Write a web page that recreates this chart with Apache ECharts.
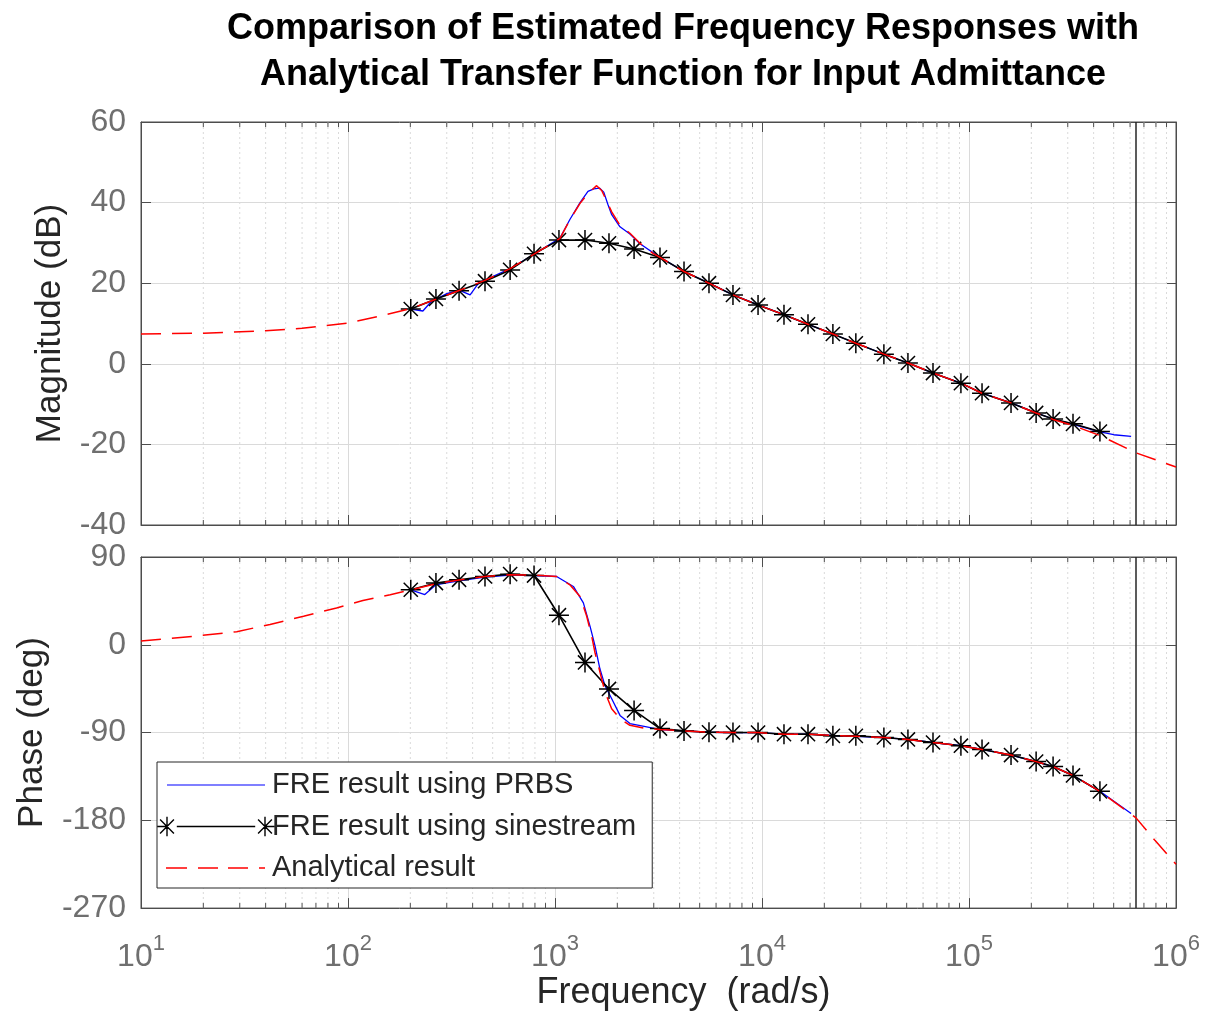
<!DOCTYPE html>
<html>
<head>
<meta charset="utf-8">
<script src="https://cdn.jsdelivr.net/npm/echarts@6/dist/echarts.min.js"></script>
<style>html,body{margin:0;padding:0;background:#fff}#c{width:1207px;height:1013px}</style>
</head>
<body>
<div id="c"></div>
<script>
// ---------------- DATA ----------------
const titleText = 'Comparison of Estimated Frequency Responses with\nAnalytical Transfer Function for Input Admittance';
const xAxisName = 'Frequency  (rad/s)';
const magAxisName = 'Magnitude (dB)';
const phaseAxisName = 'Phase (deg)';
const seriesNames = ['FRE result using PRBS', 'FRE result using sinestream', 'Analytical result'];

// sinestream (black stars)
const sineFreq = [201, 266, 344, 459, 607, 792, 1045, 1396, 1823, 2410, 3215, 4200, 5545, 7240, 9570,
  12770, 16680, 22000, 28400, 38800, 50700, 67000, 91400, 115600, 159600, 211000, 254800, 318000, 429000];
const sineMag = [13.6, 16.1, 18.1, 20.5, 23.3, 27.3, 30.7, 30.7, 29.9, 28.5, 26.4, 22.9, 20.0, 17.1, 14.6,
  12.2, 9.8, 7.4, 5.1, 2.4, 0.2, -2.3, -4.8, -7.3, -9.7, -12.2, -13.7, -14.9, -16.8];
const sinePhase = [56.4, 63.3, 66.6, 70.0, 72.4, 71.0, 30.3, -18.1, -45.3, -67.3, -85.9, -88.3, -89.7, -90.0, -90.0,
  -91.7, -91.7, -93.4, -93.4, -95.1, -97.1, -100.2, -103.5, -107.3, -113.1, -119.8, -124.9, -134.0, -150.3];

// PRBS (blue)
const prbsMagFreq = [201, 230, 250, 266, 300, 344, 389, 430, 459, 607, 792, 1057, 1180, 1321, 1443, 1540, 1640, 1720,
  1800, 1879, 2060, 2301, 2574, 3215, 4200, 5545, 7240, 9570, 12770, 16680, 22000, 28400, 38800, 50700, 67000,
  91400, 115600, 159600, 211000, 254800, 318000, 429000, 500000, 607000];
const prbsMag = [13.6, 13.1, 15.2, 16.0, 17.4, 18.3, 17.1, 20.2, 20.8, 23.6, 27.2, 31.2, 35.8, 40.0, 42.8, 43.4, 43.6, 42.6,
  39.6, 37.0, 34.0, 32.2, 29.8, 26.4, 22.9, 20.0, 17.1, 14.6, 12.2, 9.8, 7.4, 5.1, 2.4, 0.2, -2.3,
  -4.8, -7.3, -9.7, -12.2, -13.7, -15.0, -16.9, -17.6, -18.0];
const prbsPhFreq = [201, 235, 266, 300, 344, 400, 459, 607, 792, 1018, 1227, 1371, 1476, 1561, 1649, 1744, 1879, 2061,
  2302, 2773, 3215, 4200, 5545, 7240, 9570, 12770, 16680, 22000, 28400, 38800, 50700, 67000, 91400, 115600,
  159600, 211000, 254800, 318000, 429000, 542000, 607000];
const prbsPh = [56.4, 51.5, 61.5, 63.5, 65.5, 67.5, 69.5, 71.5, 71.0, 70.0, 59.8, 42.9, 19.1, -1.2, -24.9, -41.9, -55.4, -72.4,
  -80.8, -84.2, -87.0, -88.3, -89.7, -90.0, -90.0, -91.7, -91.7, -93.0, -93.8, -95.1, -97.1, -100.2, -103.5, -107.3,
  -113.1, -119.8, -124.9, -134.0, -150.3, -165.6, -173.0];

// Analytical (red dashed)
const anaMagFreq = [10, 20, 40, 60, 100, 150, 201, 266, 344, 459, 607, 792, 1057, 1180, 1321, 1443, 1589, 1681, 1777,
  1879, 2060, 2301, 2574, 2974, 3215, 4200, 5545, 7240, 9570, 12770, 16680, 22000, 28400, 38800, 50700, 67000,
  91400, 115600, 159600, 211000, 254800, 318000, 429000, 641000, 1000000];
const anaMag = [7.4, 7.6, 8.2, 8.8, 10.1, 12.1, 13.7, 16.0, 18.2, 20.7, 23.6, 27.2, 31.1, 35.7, 39.8, 42.3, 44.2, 43.0, 40.4,
  37.7, 34.4, 32.4, 29.9, 27.4, 26.4, 22.9, 20.0, 17.1, 14.6, 12.2, 9.8, 7.4, 5.1, 2.4, 0.2, -2.3,
  -4.8, -7.3, -9.7, -12.2, -13.8, -15.3, -17.8, -22.1, -25.6];
const anaPhFreq = [10, 18.6, 29, 42, 61, 88, 118, 160, 201, 266, 344, 459, 607, 792, 1018, 1180, 1321, 1423, 1504, 1560,
  1650, 1745, 1878, 2060, 2301, 2776, 3215, 4200, 5545, 7240, 9570, 12770, 16680, 22000, 28400, 38800, 50700,
  67000, 91400, 115600, 159600, 211000, 254800, 318000, 429000, 641000, 793000, 1000000];
const anaPh = [3.9, 9.0, 13.4, 20.8, 29.3, 37.8, 45.3, 51.4, 56.4, 62.5, 66.5, 70.0, 71.8, 71.5, 70.0, 61.5, 49.6, 29.3, 8.9, -7.9,
  -28.3, -48.6, -65.6, -75.8, -82.6, -85.9, -86.8, -88.3, -89.7, -90.0, -90.0, -91.7, -91.7, -93.0, -93.8, -95.1, -97.1,
  -100.2, -103.5, -107.3, -113.1, -119.8, -124.9, -134.0, -150.3, -177.5, -200.8, -225.0];

const nyquistFreq = 641000;
const magTicks = { min: -40, max: 60, interval: 20 };
const phaseTicks = { min: -270, max: 90, interval: 90 };
const xRange = { min: 10, max: 1000000 };
const minorMultipliers = [2, 3, 4, 5, 6, 7, 8, 9];
const decadeStarts = [10, 100, 1000, 10000, 100000];

// ---------------- STYLE ----------------
const FONT = "'Liberation Sans', Arial, Helvetica, sans-serif";
const TICK = '#6f6f6f';
const AXIS = '#4d4d4d';
const GRID = '#dadada';
const BLUE = '#0000ff', BLACK = '#000000', RED = '#ff0000';

const zip = (xs, ys) => xs.map((x, i) => [x, ys[i]]);
const minorFreqs = [];
decadeStarts.forEach(d => minorMultipliers.forEach(m => minorFreqs.push(d * m)));

function starPath(cx, cy, r, w) {
  let d = '';
  [0, 45, 90, 135].forEach(a => {
    const rad = a * Math.PI / 180, c = Math.cos(rad), s = Math.sin(rad);
    const hx = -s * w / 2, hy = c * w / 2;
    const p = [[cx - c * r + hx, cy - s * r + hy], [cx + c * r + hx, cy + s * r + hy],
               [cx + c * r - hx, cy + s * r - hy], [cx - c * r - hx, cy - s * r - hy]];
    d += 'M' + p.map(q => q[0].toFixed(2) + ' ' + q[1].toFixed(2)).join('L') + 'Z';
  });
  return d;
}
const STAR = 'path://' + starPath(10, 10, 10, 1.5);
const specks = 'M0 0h0.01v0.01h-0.01Z M117.99 19.99h0.01v0.01h-0.01Z ';
const iconBlue = 'path://' + specks + 'M10 9.4h98v1.2h-98Z';
const iconBlack = 'path://' + specks + 'M10 9.3h98v1.4h-98Z' + starPath(10, 10, 9.8, 1.4) + starPath(108, 10, 9.8, 1.4);
const iconRed = 'path://' + specks + 'M9 9.3h21v1.4h-21Z M41 9.3h20v1.4h-20Z M71 9.3h20v1.4h-20Z M102 9.3h6v1.4h-6Z';

const grids = [
  { left: 141, top: 122, width: 1035, height: 403 },
  { left: 141, top: 557, width: 1035, height: 354 }
];

function xAxisOpt(gridIndex, position, labels) {
  const o = {
    type: 'log', logBase: 10, min: xRange.min, max: xRange.max, gridIndex, position,
    axisLine: { show: true, onZero: false, lineStyle: { color: AXIS, width: 1 } },
    axisTick: { show: true, inside: true, length: 10, lineStyle: { color: AXIS, width: 1 } },
    splitLine: { show: position === 'bottom', lineStyle: { color: GRID, width: 1 } },
    axisLabel: { show: false }
  };
  if (labels) {
    o.axisLabel = {
      show: true, margin: 25, showMinLabel: true, showMaxLabel: true,
      formatter: v => '{b|10}{s|' + Math.round(Math.log10(v)) + '}',
      rich: {
        b: { fontSize: 32, lineHeight: 48, color: TICK, fontFamily: FONT },
        s: { fontSize: 22, lineHeight: 22, verticalAlign: 'top', color: TICK, fontFamily: FONT }
      }
    };
    o.name = xAxisName;
    o.nameLocation = 'middle';
    o.nameGap = 60;
    o.nameTextStyle = { fontSize: 36, fontFamily: FONT, color: '#262626', lineHeight: 38, padding: [0, 0, 0, 50] };
  }
  return o;
}
function yAxisOpt(gridIndex, position, ticks, name, gap) {
  const o = {
    type: 'value', gridIndex, position, min: ticks.min, max: ticks.max, interval: ticks.interval,
    axisLine: { show: true, onZero: false, lineStyle: { color: AXIS, width: 1 } },
    axisTick: { show: true, inside: true, length: 10, lineStyle: { color: AXIS, width: 1 } },
    splitLine: { show: position === 'left', lineStyle: { color: GRID, width: 1 } },
    axisLabel: { show: false }
  };
  if (name) {
    o.axisLabel = { show: true, margin: 15, fontSize: 32, color: TICK, fontFamily: FONT };
    o.name = name;
    o.nameLocation = 'middle';
    o.nameGap = gap;
    o.nameTextStyle = { fontSize: 35, fontFamily: FONT, color: '#262626', lineHeight: 38 };
  }
  return o;
}

function minorRender(params, api) {
  const f = api.value(0);
  const x = api.coord([f, api.value(1)])[0];
  const cs = params.coordSys;
  const top = cs.y, bot = cs.y + cs.height;
  return {
    type: 'group',
    children: [
      { type: 'line', shape: { x1: x, y1: top, x2: x, y2: bot }, style: { stroke: GRID, lineWidth: 1, lineDash: [2, 3] } },
      { type: 'line', shape: { x1: x, y1: bot, x2: x, y2: bot - 5 }, style: { stroke: AXIS, lineWidth: 1 } },
      { type: 'line', shape: { x1: x, y1: top, x2: x, y2: top + 5 }, style: { stroke: AXIS, lineWidth: 1 } }
    ]
  };
}

const nyqLine = {
  silent: true, symbol: ['none', 'none'], label: { show: false }, animation: false,
  lineStyle: { color: '#262626', width: 1.5, type: 'solid' },
  data: [{ xAxis: nyquistFreq }]
};

function seriesFor(xi, yi, blueData, blackData, redData) {
  return [
    { type: 'custom', xAxisIndex: xi, yAxisIndex: yi, data: minorFreqs.map(f => [f, 0]), renderItem: minorRender, silent: true, z: 1, clip: false },
    { name: seriesNames[0], type: 'line', xAxisIndex: xi, yAxisIndex: yi, data: blueData, showSymbol: false,
      lineStyle: { color: BLUE, width: 1.3 }, itemStyle: { color: BLUE }, z: 3 },
    { name: seriesNames[1], type: 'line', xAxisIndex: xi, yAxisIndex: yi, data: blackData,
      symbol: STAR, symbolSize: 20, showAllSymbol: true,
      lineStyle: { color: BLACK, width: 1.6 }, itemStyle: { color: BLACK, borderWidth: 0 }, z: 4 },
    { name: seriesNames[2], type: 'line', xAxisIndex: xi, yAxisIndex: yi, data: redData, showSymbol: false,
      lineStyle: { color: RED, width: 1.5, type: [20, 11] }, itemStyle: { color: RED }, z: 5, markLine: nyqLine }
  ];
}

const chart = echarts.init(document.getElementById('c'), null, { renderer: 'canvas' });
chart.setOption({
  animation: false,
  backgroundColor: '#ffffff',
  title: {
    text: titleText, left: 678, top: 1, textAlign: 'center',
    textStyle: { fontSize: 36, fontWeight: 'bold', fontFamily: FONT, color: '#000', lineHeight: 46 }
  },
  grid: grids.map(g => Object.assign({ show: true, borderColor: AXIS, borderWidth: 1, backgroundColor: 'transparent', containLabel: false }, g)),
  xAxis: [xAxisOpt(0, 'bottom', false), xAxisOpt(0, 'top', false), xAxisOpt(1, 'bottom', true), xAxisOpt(1, 'top', false)],
  yAxis: [yAxisOpt(0, 'left', magTicks, magAxisName, 72), yAxisOpt(0, 'right', magTicks, null),
          yAxisOpt(1, 'left', phaseTicks, phaseAxisName, 90), yAxisOpt(1, 'right', phaseTicks, null)],
  legend: {
    left: 157, top: 762, orient: 'vertical', selectedMode: false,
    backgroundColor: '#ffffff', borderColor: '#262626', borderWidth: 1,
    padding: [8, 16, 5, 0], itemWidth: 118, itemHeight: 20, itemGap: 11.5,
    itemStyle: { borderWidth: 0 },
    textStyle: { fontSize: 29, fontFamily: FONT, color: '#262626', lineHeight: 30, padding: [0, 0, 0, -8] },
    data: [
      { name: seriesNames[0], icon: iconBlue },
      { name: seriesNames[1], icon: iconBlack },
      { name: seriesNames[2], icon: iconRed }
    ]
  },
  series: [].concat(
    seriesFor(0, 0, zip(prbsMagFreq, prbsMag), zip(sineFreq, sineMag), zip(anaMagFreq, anaMag)),
    seriesFor(2, 2, zip(prbsPhFreq, prbsPh), zip(sineFreq, sinePhase), zip(anaPhFreq, anaPh))
  )
});
</script>
</body>
</html>
